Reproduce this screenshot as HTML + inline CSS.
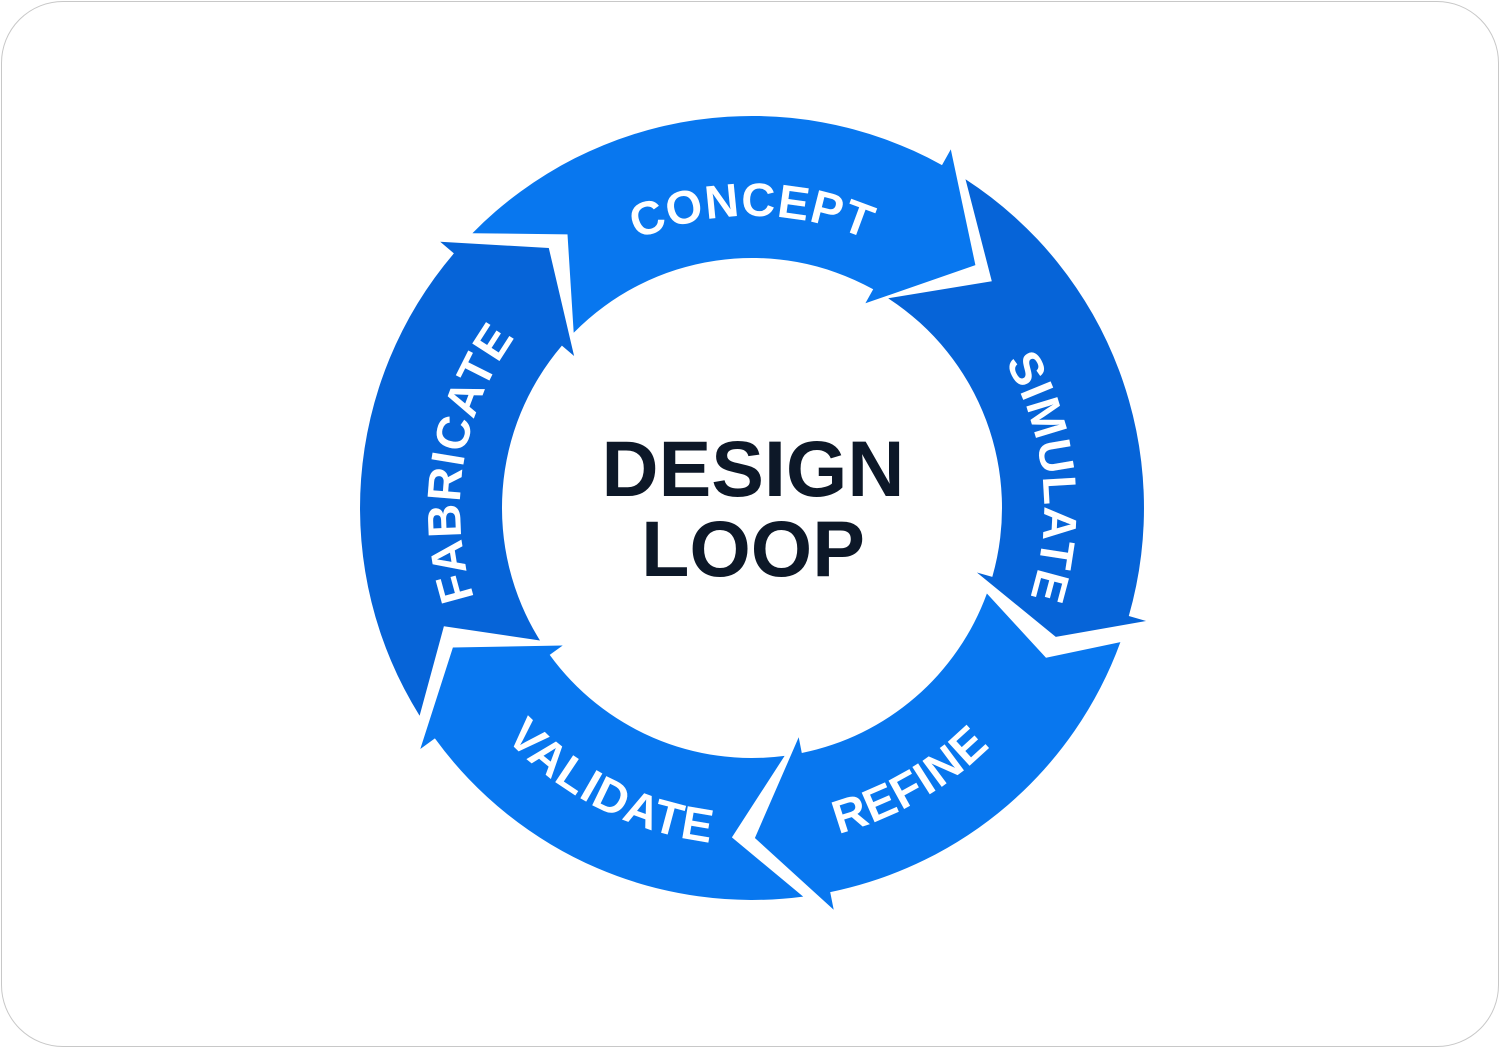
<!DOCTYPE html>
<html><head><meta charset="utf-8"><style>
html,body{margin:0;padding:0;background:#fff;}
body{width:1502px;height:1050px;overflow:hidden;position:relative;}
.frame{position:absolute;left:1px;top:1px;width:1498px;height:1046px;border:1px solid #c8c8c8;border-radius:62px;box-sizing:border-box;}
svg{position:absolute;left:0;top:0;}
</style></head><body>
<div class="frame"></div>
<svg id="s" width="1502" height="1050" viewBox="0 0 1502 1050"></svg>
<script>
var cx=752,cy=508,R=392,r=250,RW=410,rw=234,RM=330,g=4;
function P(a,rad){var t=a*Math.PI/180;return (cx+rad*Math.sin(t)).toFixed(1)+","+(cy-rad*Math.cos(t)).toFixed(1);}
var segs=[
 {w:29,t:42.6,c:"#0877ef",label:"CONCEPT",la:0,cw:1},
 {w:106,t:113,c:"#0664d8",label:"SIMULATE",la:84,cw:1},
 {w:168.5,t:179.5,c:"#0877ef",label:"REFINE",la:150,cw:0},
 {w:234,t:245,c:"#0877ef",label:"VALIDATE",la:207,cw:0},
 {w:310.5,t:322,c:"#0664d8",label:"FABRICATE",la:279,cw:1}
];
var h='';
for(var i=0;i<5;i++){
 var s=segs[i],p=segs[(i+4)%5];
 var s0=p.w+g, n=p.t+g;
 var w=s.w; if(w<s0) w+=360; var t=s.t; if(t<w) t+=360;
 var large=(w-s0)>180?1:0;
 var d="M"+P(s0,R)+" A"+R+","+R+" 0 "+large+" 1 "+P(w,R)+" L"+P(w,RW)+" L"+P(t,RM)+" L"+P(w,rw)+" L"+P(w,r)+" A"+r+","+r+" 0 "+large+" 0 "+P(s0,r)+" L"+P(n,RM)+" Z";
 h+='<path d="'+d+'" fill="'+s.c+'"/>';
 var a1=s.la-85,a2=s.la+85,pd;
 if(s.cw){var rr=292;pd="M"+P(a1,rr)+" A"+rr+","+rr+" 0 0 1 "+P(a2,rr);}
 else{var rr=337;pd="M"+P(a2,rr)+" A"+rr+","+rr+" 0 0 0 "+P(a1,rr);}
 h+='<path id="tp'+i+'" d="'+pd+'" fill="none"/>';
 h+='<text font-family="Liberation Sans, sans-serif" font-weight="bold" font-size="47" letter-spacing="1" fill="#fff" text-anchor="middle"><textPath href="#tp'+i+'" startOffset="50%">'+s.label+'</textPath></text>';
}
h+='<text x="753" y="496" text-anchor="middle" font-family="Liberation Sans, sans-serif" font-weight="bold" font-size="79" fill="#0d1828">DESIGN</text>';
h+='<text x="753" y="576" text-anchor="middle" font-family="Liberation Sans, sans-serif" font-weight="bold" font-size="79" fill="#0d1828">LOOP</text>';
document.getElementById('s').innerHTML=h;
</script>
</body></html>
